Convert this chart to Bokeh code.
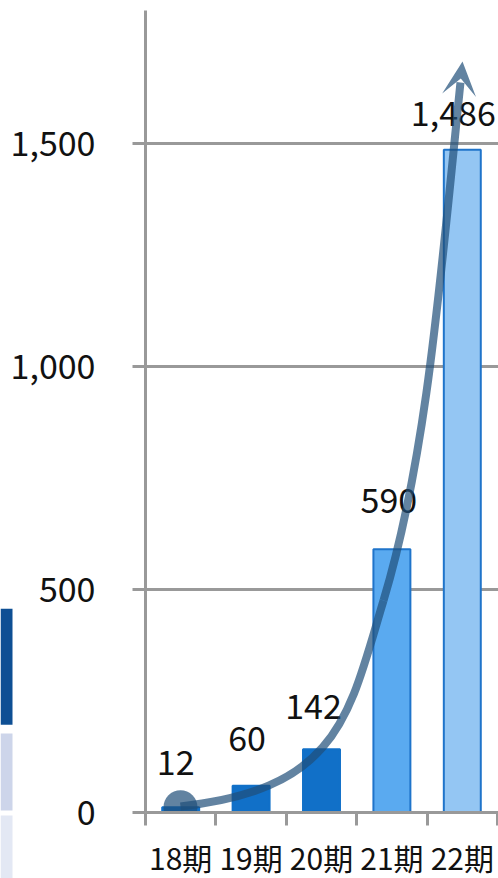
from bokeh.plotting import figure
from bokeh.models import (Range1d, FixedTicker, NumeralTickFormatter, ColumnDataSource,
                          Arrow, VeeHead)
from bokeh.core.properties import value
from bokeh.embed import file_html
from bokeh.resources import INLINE

# ---- data ----
periods = ["18期", "19期", "20期", "21期", "22期"]
amounts = [12, 60, 142, 590, 1486]
y_ticks = [0, 500, 1000, 1500]
amount_labels = ["12", "60", "142", "590", "1,486"]

# trend arrow: two cubic segments (start, control 1, control 2, end), data space
trend_x0 = [0.497, 3.381]
trend_y0 = [13.5, 475.3]
trend_cx0 = [2.756, 3.994]
trend_cy0 = [52.9, 797.5]
trend_cx1 = [2.889, 4.185]
trend_cy1 = [217.5, 1190.6]
trend_x1 = [3.381, 4.474]
trend_y1 = [475.3, 1636.8]
arrow_from = (4.375, 1484.3)
arrow_to = (4.503, 1683.9)

# cut-off neighbouring panel strips (left edge)
strip_top = [457, 177, -6.7]
strip_bottom = [197, 4.5, -150]
strip_colors = ["#0E4F94", "#CDD5EA", "#E3E8F4"]

# ---- styles ----
bar_fill = ["#1170C8", "#1170C8", "#1170C8", "#5AAAF0", "#94C6F3"]
bar_line = ["#1170C8", "#1170C8", "#1170C8", "#1F74CA", "#1F74CA"]
label_dx = [-5, -4, -8, -3, -9]
label_dy = [45, 47, 43, 49, 36]
FONT = "Noto Sans CJK JP"
GRAY = "#999999"
TREND = "#1F4E79"

centers = [i + 0.5 for i in range(len(periods))]

W, H = 498, 878
px_per_unit = 70.4
x0_page = 145
x_start = -x0_page / px_per_unit
x_end = (W - x0_page) / px_per_unit
y_per_px = 500 / 223.0
zero_page = 812
y_top = zero_page * y_per_px
y_bot = -(H - zero_page) * y_per_px

p = figure(width=W, height=H, x_range=Range1d(x_start, x_end), y_range=Range1d(y_bot, y_top),
           output_backend="svg", toolbar_location=None, min_border=0,
           outline_line_color=None, background_fill_color="white")
p.grid.visible = False

# side strips
p.quad(left=x_start, right=(12 - x0_page) / px_per_unit, top=strip_top, bottom=strip_bottom,
       fill_color=strip_colors, line_color=None)

# gridlines (from tick values)
grid_vals = [t for t in y_ticks if t > 0]
p.segment(x0=0, x1=x_end, y0=grid_vals, y1=grid_vals, line_color=GRAY, line_width=3)

src = ColumnDataSource(dict(x=centers, top=amounts, fill=bar_fill, line=bar_line,
                            lab=amount_labels, dx=label_dx, dy=[-d for d in label_dy]))
p.vbar(x="x", top="top", bottom=0, width=0.525, fill_color="fill", line_color="line",
       line_width=2, source=src)

# start dot of the trend, clipped below the axis
p.scatter(x=[trend_x0[0]], y=[amounts[0]], size=34, fill_color=TREND, fill_alpha=0.7,
          line_color=None)
p.quad(left=0, right=x_end, top=0, bottom=y_bot, fill_color="white", line_color=None)

p.text(x="x", y="top", text="lab", x_offset="dx", y_offset="dy", source=src,
       text_align="center", text_baseline="alphabetic", text_font=value(FONT),
       text_font_size="34px", text_color="#111111")

p.bezier(x0=trend_x0, y0=trend_y0, x1=trend_x1, y1=trend_y1,
         cx0=trend_cx0, cy0=trend_cy0, cx1=trend_cx1, cy1=trend_cy1,
         line_color=TREND, line_alpha=0.7, line_width=8, line_cap="butt")
p.add_layout(Arrow(x_start=arrow_from[0], y_start=arrow_from[1], x_end=arrow_to[0], y_end=arrow_to[1],
                   line_alpha=0, line_width=0,
                   end=VeeHead(size=34, fill_color=TREND, fill_alpha=0.7, line_color=None)))

# y axis
ya = p.yaxis[0]
ya.fixed_location = 0
ya.bounds = (0, (812 - 10) * y_per_px)
ya.ticker = FixedTicker(ticks=y_ticks)
ya.formatter = NumeralTickFormatter(format="0,0")
ya.axis_line_color = GRAY
ya.axis_line_width = 3
ya.major_tick_line_color = GRAY
ya.major_tick_line_width = 3
ya.major_tick_out = 13
ya.major_tick_in = 0
ya.minor_tick_line_color = None
ya.major_label_standoff = 37
ya.major_label_text_font = FONT
ya.major_label_text_font_size = "34px"
ya.major_label_text_color = "#111111"

# x axis
xa = p.xaxis[0]
xa.fixed_location = 0
xa.bounds = (0, x_end)
xa.ticker = FixedTicker(ticks=centers, minor_ticks=list(range(len(periods) + 1)))
xa.major_label_overrides = {c: lab for c, lab in zip(centers, periods)}
xa.axis_line_color = GRAY
xa.axis_line_width = 3
xa.major_tick_line_color = None
xa.major_tick_out = 0
xa.major_tick_in = 0
xa.minor_tick_line_color = GRAY
xa.minor_tick_line_width = 3
xa.minor_tick_out = 13
xa.minor_tick_in = 0
xa.major_label_standoff = 9
xa.major_label_text_font = FONT
xa.major_label_text_font_size = "30px"
xa.major_label_text_color = "#111111"

open("out.html", "w").write(file_html(p, INLINE))
